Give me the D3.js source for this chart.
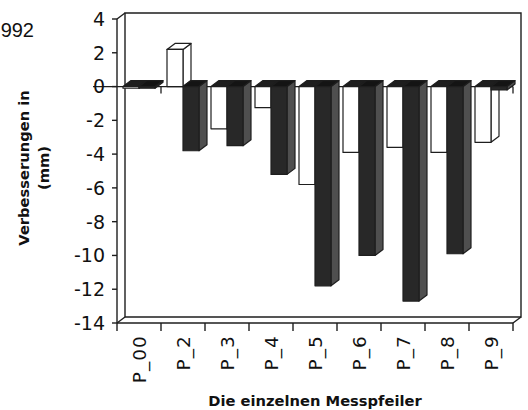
<!DOCTYPE html>
<html>
<head>
<meta charset="utf-8">
<script src="https://cdn.jsdelivr.net/npm/d3@7"></script>
<style>
  body { margin: 0; background: #fff; }
  svg { display: block; }
  text { fill: #111; }
</style>
</head>
<body>
<svg id="svg" width="528" height="410"></svg>
<script>
// values
var categories = ["P_00", "P_2", "P_3", "P_4", "P_5", "P_6", "P_7", "P_8", "P_9"];
var seriesKeys = ["hell", "dunkel"];
var lightValues = [-0.1, 2.2, -2.5, -1.25, -5.8, -3.9, -3.6, -3.9, -3.3];
var darkValues = [-0.1, -3.8, -3.5, -5.2, -11.8, -10.0, -12.7, -9.9, -0.2];
var yTicks = [4, 2, 0, -2, -4, -6, -8, -10, -12, -14];

var svg = d3.select("#svg");
// note: "top" is taken by window.top, so plot edges get their own names
var plotLeft = 117, plotRight = 513, plotTop = 19, plotBottom = 323;
var dx = 8, dy = 6; // 3d depth offset

var x = d3.scaleBand().domain(categories).range([plotLeft, plotRight]).padding(0);
var xs = d3.scaleBand().domain(seriesKeys).range([0, x.bandwidth()])
           .paddingInner(0).paddingOuter(0.375);
var y = d3.scaleLinear().domain([-14, 4]).range([plotBottom, plotTop]);

var ink = "#1e1e1e";

// back wall + floor frame
var frame = svg.append("g").attr("fill", "none").attr("stroke", ink).attr("stroke-width", 1.4);
frame.append("path").attr("d",
  "M" + (plotLeft + dx) + "," + (plotBottom - dy) + "V" + (plotTop - dy) + "H" + (plotRight + dx) +
  "V" + (plotBottom - dy) + "H" + (plotLeft + dx));
frame.append("path").attr("d",
  "M" + plotLeft + "," + plotTop + "L" + (plotLeft + dx) + "," + (plotTop - dy) +
  "M" + plotLeft + "," + plotBottom + "L" + (plotLeft + dx) + "," + (plotBottom - dy) +
  "M" + plotRight + "," + plotBottom + "L" + (plotRight + dx) + "," + (plotBottom - dy));

// zero line with its ticks
var zero = svg.append("g").attr("stroke", ink).attr("stroke-width", 1.3);
zero.append("line").attr("x1", 93).attr("x2", plotRight).attr("y1", y(0)).attr("y2", y(0));
zero.selectAll(".zt").data(d3.range(1, categories.length + 1)).enter().append("line")
  .attr("x1", function(i) { return plotLeft + i * x.step(); })
  .attr("x2", function(i) { return plotLeft + i * x.step(); })
  .attr("y1", y(0)).attr("y2", y(0) + 7);

// bars
var bars = [];
categories.forEach(function(c, i) {
  bars.push({ cat: c, key: "hell", v: lightValues[i] });
  bars.push({ cat: c, key: "dunkel", v: darkValues[i] });
});

var colors = {
  hell: { front: "#fff", side: "#fff", top: "#fff", topNeg: "#1e1e1e" },
  dunkel: { front: "#282828", side: "#4f4f4f", top: "#141414", topNeg: "#141414" }
};

var g = svg.append("g").attr("stroke", ink).attr("stroke-width", 1.2).attr("stroke-linejoin", "round");
bars.forEach(function(b) {
  var x0 = x(b.cat) + xs(b.key), x1 = x0 + xs.bandwidth();
  var yTop = y(Math.max(0, b.v)), yBot = y(Math.min(0, b.v));
  var col = colors[b.key];
  // side face
  g.append("path").attr("fill", col.side)
    .attr("d", "M" + x1 + "," + yTop + "L" + (x1 + dx) + "," + (yTop - dy) + "L" + (x1 + dx) + "," + (yBot - dy) +
               "L" + x1 + "," + yBot + "Z");
  // top face
  g.append("path").attr("fill", b.v < 0 ? col.topNeg : col.top)
    .attr("d", "M" + x0 + "," + yTop + "L" + (x0 + dx) + "," + (yTop - dy) + "L" + (x1 + dx) + "," + (yTop - dy) +
               "L" + x1 + "," + yTop + "Z");
  // front face
  g.append("rect").attr("fill", col.front)
    .attr("x", x0).attr("y", yTop).attr("width", x1 - x0).attr("height", Math.max(0.5, yBot - yTop));
});

// front axes
var axes = svg.append("g").attr("stroke", ink).attr("stroke-width", 1.4).attr("fill", "none");
axes.append("line").attr("x1", plotLeft).attr("x2", plotLeft).attr("y1", plotTop).attr("y2", plotBottom);
axes.append("line").attr("x1", plotLeft).attr("x2", plotRight).attr("y1", plotBottom).attr("y2", plotBottom);
axes.selectAll(".yt").data(yTicks).enter().append("line")
  .attr("x1", plotLeft - 5).attr("x2", plotLeft)
  .attr("y1", function(d) { return y(d); }).attr("y2", function(d) { return y(d); });
axes.selectAll(".xt").data(d3.range(categories.length + 1)).enter().append("line")
  .attr("x1", function(i) { return plotLeft + i * x.step(); })
  .attr("x2", function(i) { return plotLeft + i * x.step(); })
  .attr("y1", plotBottom).attr("y2", plotBottom + 8);

// tick labels
svg.append("g").selectAll("text").data(yTicks).enter().append("text")
  .attr("x", 105).attr("y", function(d) { return y(d); }).attr("dy", "0.36em")
  .attr("text-anchor", "end")
  .style("font-family", "'DejaVu Sans', sans-serif").style("font-size", "19px")
  .text(function(d) { return d; });

svg.append("g").selectAll("text").data(categories).enter().append("text")
  .attr("transform", function(d) { return "translate(" + (x(d) + x.bandwidth() / 2 + 7) + "," + 335 + ") rotate(-90)"; })
  .attr("text-anchor", "end")
  .style("font-family", "'DejaVu Sans', sans-serif").style("font-size", "18.5px")
  .style("letter-spacing", "1.1px")
  .text(function(d) { return d; });

// titles
svg.append("text").attr("x", 315).attr("y", 406).attr("text-anchor", "middle")
  .style("font-family", "'DejaVu Sans', sans-serif").style("font-size", "14.7px").style("font-weight", "bold")
  .text("Die einzelnen Messpfeiler");

var yt = svg.append("text").attr("transform", "translate(29,168) rotate(-90)").attr("text-anchor", "middle")
  .style("font-family", "'DejaVu Sans', sans-serif").style("font-size", "14.7px").style("font-weight", "bold");
yt.append("tspan").attr("x", 0).attr("y", 0).text("Verbesserungen in");
yt.append("tspan").attr("x", 0).attr("y", 20).text("(mm)");

svg.append("text").attr("x", 34).attr("y", 37).attr("text-anchor", "end")
  .style("font-family", "'Liberation Sans', sans-serif").style("font-size", "20px")
  .text("992");
</script>
</body>
</html>
